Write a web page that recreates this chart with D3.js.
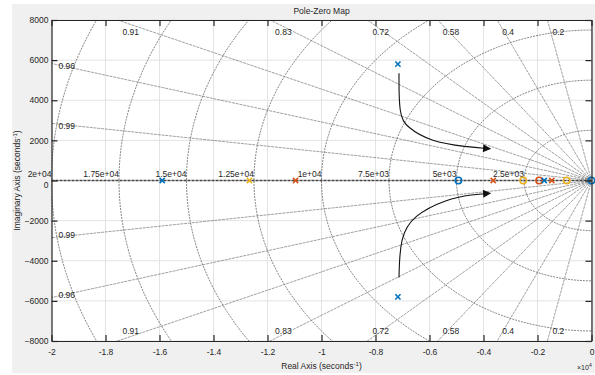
<!DOCTYPE html>
<html>
<head>
<meta charset="utf-8">
<script src="https://cdn.jsdelivr.net/npm/d3@7"></script>
<style>
  body { margin: 0; background: #fff; }
  text { font-family: "Liberation Sans", Arial, sans-serif; fill: #262626; }
</style>
</head>
<body>
<script>
// poles (x markers) and zeros (o markers), per series colour
var poleSeries = ["blue", "blue", "blue", "blue", "yellow", "orange", "orange", "orange"];
var poleRe = [-7170, -7170, -15900, -1750, -12670, -10960, -3640, -1470];
var poleIm = [5800, -5800, 0, 0, 0, 0, 0, 0];
var zeroSeries = ["blue", "yellow", "orange", "yellow", "blue"];
var zeroRe = [-4930, -2530, -1940, -920, 0];
var zeroIm = [0, 0, 0, 0, 0];

// sgrid: damping ratios and natural frequencies
var dampings = [0.2, 0.4, 0.58, 0.72, 0.83, 0.91, 0.96, 0.99];
var dampLabels = ["0.2", "0.4", "0.58", "0.72", "0.83", "0.91", "0.96", "0.99"];
var freqs = [2500, 5000, 7500, 10000, 12500, 15000, 17500, 20000];
var freqLabels = ["2.5e+03", "5e+03", "7.5e+03", "1e+04", "1.25e+04", "1.5e+04", "1.75e+04", "2e+04"];

// tick values
var xTicks = [-20000, -18000, -16000, -14000, -12000, -10000, -8000, -6000, -4000, -2000, 0];
var xTickLabels = ["-2", "-1.8", "-1.6", "-1.4", "-1.2", "-1", "-0.8", "-0.6", "-0.4", "-0.2", "0"];
var yTicks = [-8000, -6000, -4000, -2000, 0, 2000, 4000, 6000, 8000];

// annotation arrows (root locus direction), data units
var arrowUpperRe = [-7130, -7130, -6840, -5980, -4620, -3750];
var arrowUpperIm = [5350, 3250, 2660, 1950, 1665, 1585];
var arrowLowerRe = [-7130, -7090, -6610, -5360, -4390, -3750];
var arrowLowerIm = [-4835, -2835, -1750, -915, -700, -635];

var colors = { blue: "#0072BD", orange: "#D95319", yellow: "#EDB120" };

var svgWidth = 595, svgHeight = 375;
var margin = { top: 20, right: 3.5, bottom: 34, left: 51.5 };
var chartWidth = svgWidth - margin.left - margin.right;
var chartHeight = svgHeight - margin.top - margin.bottom;

var svg = d3.select("body").append("svg")
  .attr("width", svgWidth)
  .attr("height", svgHeight);

// figure background
svg.append("rect")
  .attr("x", 12).attr("y", 4)
  .attr("width", svgWidth - 12).attr("height", 369)
  .attr("fill", "#f0f0f0");

var chartGroup = svg.append("g")
  .attr("transform", `translate(${margin.left}, ${margin.top})`);

var xScale = d3.scaleLinear().domain([-20000, 0]).range([0, chartWidth]);
var yScale = d3.scaleLinear().domain([-8000, 8000]).range([chartHeight, 0]);

chartGroup.append("rect")
  .attr("width", chartWidth).attr("height", chartHeight)
  .attr("fill", "#fff");

svg.append("defs").append("clipPath").attr("id", "plotClip")
  .append("rect").attr("width", chartWidth).attr("height", chartHeight);

// light grid at ticks
chartGroup.append("g").selectAll("line").data(xTicks).enter().append("line")
  .attr("x1", d => xScale(d)).attr("x2", d => xScale(d))
  .attr("y1", 0).attr("y2", chartHeight)
  .attr("stroke", "#e3e3e3").attr("stroke-width", 1);
chartGroup.append("g").selectAll("line").data(yTicks).enter().append("line")
  .attr("y1", d => yScale(d)).attr("y2", d => yScale(d))
  .attr("x1", 0).attr("x2", chartWidth)
  .attr("stroke", "#e3e3e3").attr("stroke-width", 1);

var grid = chartGroup.append("g").attr("clip-path", "url(#plotClip)");

// natural frequency semicircles
var arc = d3.line().x(d => xScale(d[0])).y(d => yScale(d[1]));
freqs.forEach(function(wn) {
  var pts = d3.range(0, 181).map(function(i) {
    var a = Math.PI / 2 + i * Math.PI / 180;
    return [wn * Math.cos(a), wn * Math.sin(a)];
  });
  grid.append("path")
    .attr("d", arc(pts))
    .attr("fill", "none")
    .attr("stroke", "#666")
    .attr("stroke-width", 0.8)
    .attr("stroke-dasharray", "2,1");
});

// damping rays
var far = 40000;
dampings.forEach(function(z) {
  var s = Math.sqrt(1 - z * z);
  [1, -1].forEach(function(sign) {
    grid.append("line")
      .attr("x1", xScale(0)).attr("y1", yScale(0))
      .attr("x2", xScale(-z * far)).attr("y2", yScale(sign * s * far))
      .attr("stroke", "#777")
      .attr("stroke-width", 0.7)
      .attr("stroke-dasharray", "3,0.8");
  });
});

// real axis
grid.append("line")
  .attr("x1", 0).attr("x2", chartWidth)
  .attr("y1", yScale(0)).attr("y2", yScale(0))
  .attr("stroke", "#444").attr("stroke-width", 1.5)
  .attr("stroke-dasharray", "3,1");

// damping labels
dampings.forEach(function(z, i) {
  var t = Math.sqrt(1 - z * z) / z;
  var reTop = -8000 / t;
  [1, -1].forEach(function(sign) {
    var tx, ty;
    if (reTop >= -20000) {
      tx = xScale(reTop) + 5;
      ty = sign > 0 ? 15 : chartHeight - 7;
    } else {
      tx = 7;
      ty = yScale(sign * 20000 * t) + (sign > 0 ? 6 : 0);
    }
    chartGroup.append("text")
      .attr("x", tx).attr("y", ty)
      .attr("font-size", "8.5px")
      .text(dampLabels[i]);
  });
});

// frequency labels
freqs.forEach(function(wn, i) {
  chartGroup.append("text")
    .attr("x", xScale(-wn))
    .attr("y", yScale(0) - 4)
    .attr("text-anchor", "end")
    .attr("font-size", "8.5px")
    .text(freqLabels[i]);
});

// arrows
var defs = svg.select("defs");
defs.append("marker")
  .attr("id", "head").attr("viewBox", "0 0 10 10")
  .attr("refX", 9).attr("refY", 5)
  .attr("markerWidth", 10).attr("markerHeight", 8)
  .attr("markerUnits", "userSpaceOnUse")
  .attr("orient", "auto")
  .append("path").attr("d", "M0,0L10,5L0,10Z").attr("fill", "#111");

var arrowLine = d3.line()
  .x(d => xScale(d[0])).y(d => yScale(d[1]))
  .curve(d3.curveBasis);
[[arrowUpperRe, arrowUpperIm], [arrowLowerRe, arrowLowerIm]].forEach(function(a) {
  var pts = a[0].map((r, i) => [r, a[1][i]]);
  chartGroup.append("path")
    .attr("d", arrowLine(pts))
    .attr("fill", "none")
    .attr("stroke", "#111")
    .attr("stroke-width", 1.1)
    .attr("marker-end", "url(#head)");
});

// zeros
chartGroup.append("g").selectAll("circle")
  .data(zeroRe).enter().append("circle")
  .attr("cx", d => xScale(d))
  .attr("cy", (d, i) => yScale(zeroIm[i]))
  .attr("r", 3.2)
  .attr("fill", "none")
  .attr("stroke", (d, i) => colors[zeroSeries[i]])
  .attr("stroke-width", 1.6);

// poles
chartGroup.append("g").selectAll("path")
  .data(poleRe).enter().append("path")
  .attr("d", "M-2.6,-2.6L2.6,2.6M-2.6,2.6L2.6,-2.6")
  .attr("transform", (d, i) => `translate(${xScale(d)},${yScale(poleIm[i])})`)
  .attr("stroke", (d, i) => colors[poleSeries[i]])
  .attr("stroke-width", 1.6)
  .attr("fill", "none");

// axes
var xAxis = d3.axisBottom(xScale).tickValues(xTicks)
  .tickFormat((d, i) => xTickLabels[i]).tickSizeInner(-6).tickSizeOuter(0).tickPadding(8);
var yAxis = d3.axisLeft(yScale).tickValues(yTicks)
  .tickFormat(d3.format("d")).tickSizeInner(-6).tickSizeOuter(0).tickPadding(3);

var gx = chartGroup.append("g")
  .attr("transform", `translate(0, ${chartHeight})`)
  .call(xAxis);
var gy = chartGroup.append("g").call(yAxis);
var gt = chartGroup.append("g")
  .call(d3.axisTop(xScale).tickValues(xTicks).tickFormat("").tickSizeInner(-6).tickSizeOuter(0));
var gr = chartGroup.append("g")
  .attr("transform", `translate(${chartWidth}, 0)`)
  .call(d3.axisRight(yScale).tickValues(yTicks).tickFormat("").tickSizeInner(-6).tickSizeOuter(0));

[gx, gy, gt, gr].forEach(function(g) {
  g.select(".domain").attr("stroke", "#262626").attr("stroke-width", 1.2);
  g.selectAll(".tick line").attr("stroke", "#262626").attr("stroke-width", 1.2);
  g.selectAll(".tick text").attr("font-size", "8.5px").attr("fill", "#262626")
    .attr("font-family", "Liberation Sans, Arial, sans-serif");
});
// keep the 0 tick label clear of the 2e+04 frequency label
gy.selectAll(".tick text").filter(d => d === 0).attr("dy", "0.85em");

// title and axis labels
svg.append("text")
  .attr("x", margin.left + chartWidth / 2).attr("y", 14)
  .attr("text-anchor", "middle").attr("font-size", "8.5px")
  .text("Pole-Zero Map");

var xl = svg.append("text")
  .attr("x", margin.left + chartWidth / 2).attr("y", 369)
  .attr("text-anchor", "middle").attr("font-size", "8.5px");
xl.append("tspan").text("Real Axis (seconds");
xl.append("tspan").attr("dy", -3).attr("font-size", "6px").text("-1");
xl.append("tspan").attr("dy", 3).text(")");

var yl = svg.append("text")
  .attr("transform", `translate(20, ${margin.top + chartHeight / 2}) rotate(-90)`)
  .attr("text-anchor", "middle").attr("font-size", "8.5px");
yl.append("tspan").text("Imaginary Axis (seconds");
yl.append("tspan").attr("dy", -3).attr("font-size", "6px").text("-1");
yl.append("tspan").attr("dy", 3).text(")");

var ex = svg.append("text")
  .attr("x", 577).attr("y", 370).attr("font-size", "7px");
ex.append("tspan").text("\u00d710");
ex.append("tspan").attr("dy", -3).attr("font-size", "5px").text("4");
</script>
</body>
</html>
